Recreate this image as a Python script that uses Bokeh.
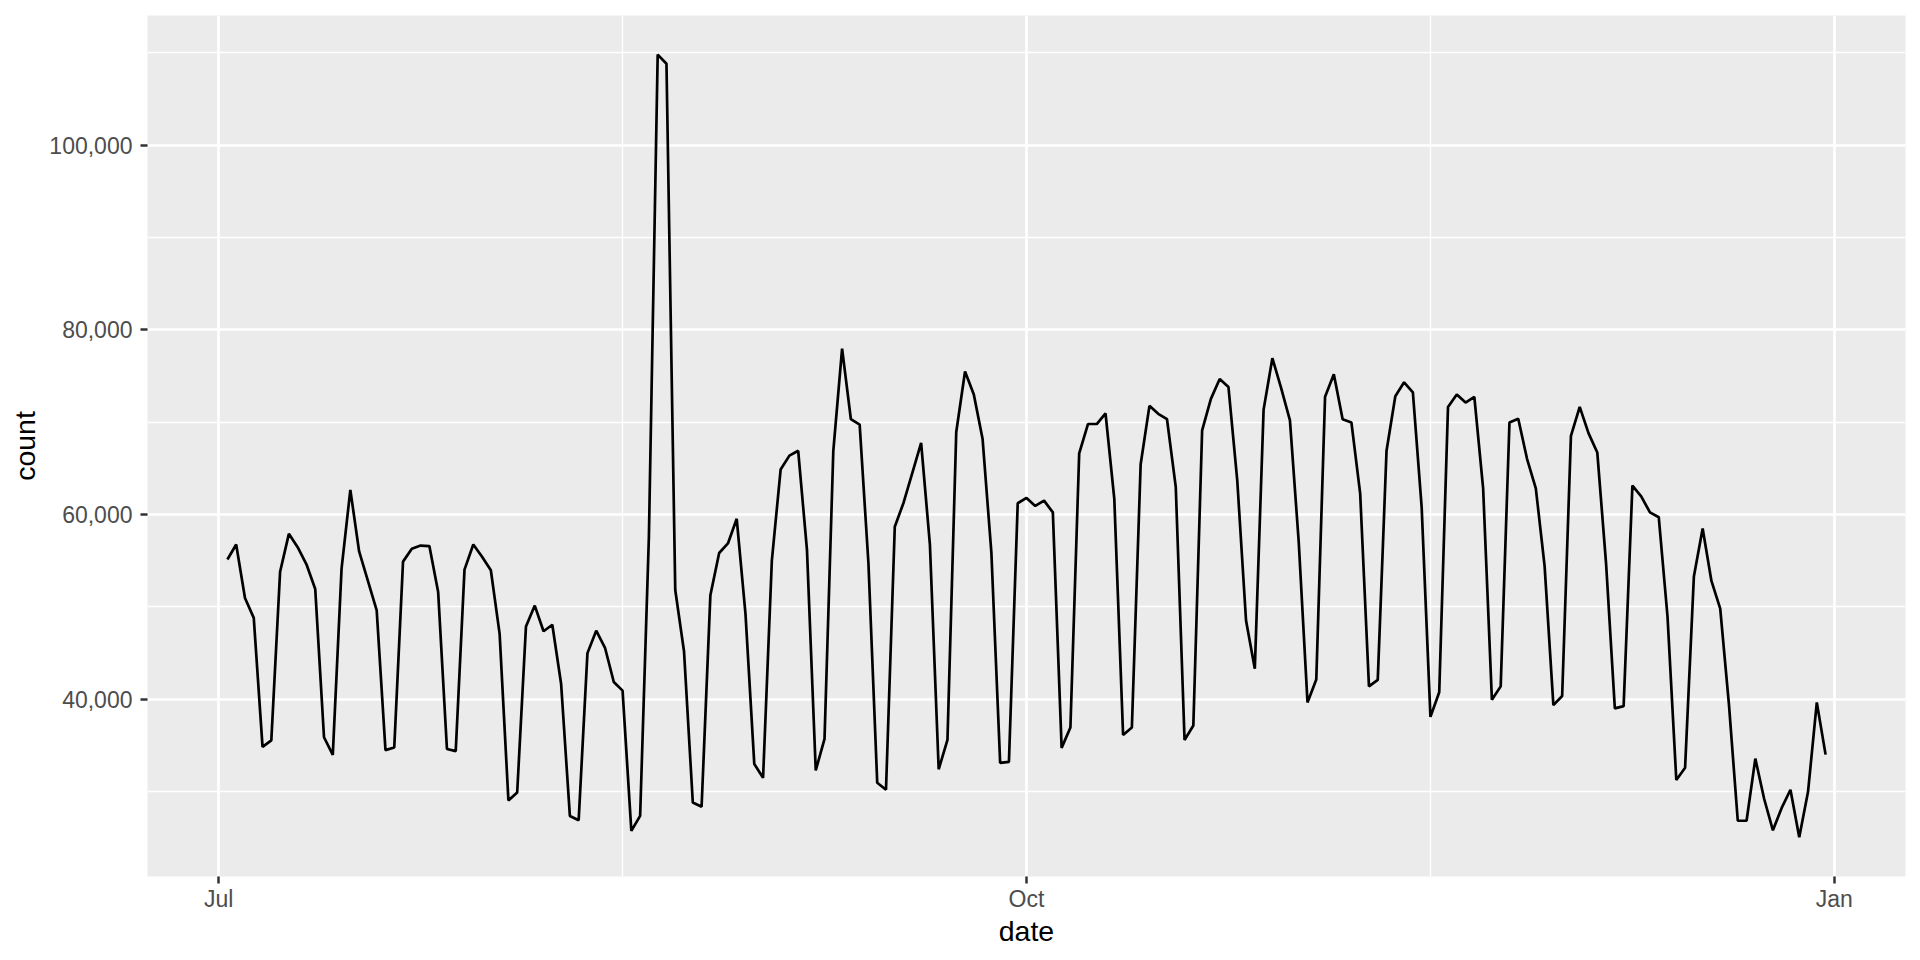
from datetime import datetime, timedelta
import pandas as pd
from bokeh.plotting import figure
from bokeh.models import FixedTicker, NumeralTickFormatter, DatetimeTickFormatter, Range1d
from bokeh.embed import file_html
from bokeh.resources import INLINE

# ---- data ----
start_date = "2013-07-02"
end_date = "2013-12-31"

jul = [55130, 56750, 50960, 48810, 34840, 35540, 53800, 57910, 56460, 54610,
       51940, 35880, 33970, 54140, 62670, 56000, 52810, 49620, 34490, 34780,
       54900, 56290, 56640, 56580, 51600, 34610, 34380, 54030, 56750, 55420]
aug = [53970, 47070, 29040, 29910, 47880, 50140, 47360, 48060, 41680, 27360,
       26900, 44990, 47420, 45570, 41860, 40930, 25740, 27360, 57620, 109800,
       108810, 51830, 45160, 28810, 28350, 51250, 55830, 56870, 59540, 49220,
       32990]
sep = [31480, 55010, 64870, 66380, 66900, 56170, 32290, 35710, 66900, 77970,
       70320, 69740, 54720, 30960, 30200, 58670, 61280, 64520, 67770, 56750,
       32410, 35590, 68930, 75480, 72990, 68170, 55880, 33100, 33220, 61220]
oct_ = [61800, 60930, 61510, 60230, 34730, 36930, 66610, 69800, 69800, 70960,
        61680, 36120, 36930, 65450, 71770, 70900, 70320, 62960, 35590, 37160,
        69100, 72520, 74670, 73800, 63710, 48520, 43300, 71360, 76930, 73680,
        70200]
nov = [57040, 39650, 42140, 72750, 75190, 70320, 69970, 62260, 41390, 42090,
       66900, 72810, 74320, 73220, 60810, 38090, 40750, 71650, 72990, 72120,
       72750, 62840, 39940, 41390, 69970, 70380, 66030, 62840, 54430, 39360]
dec = [40350, 68520, 71650, 68810, 66720, 54720, 39010, 39250, 63130, 61970,
       60230, 59710, 48930, 31250, 32580, 53280, 58490, 52810, 49800, 39360,
       26840, 26840, 33570, 29220, 25800, 28230, 30200, 25040, 29970, 39650,
       34000]

counts = jul + aug + sep + oct_ + nov + dec
dates = list(pd.date_range(start_date, end_date, freq="D"))

x_tick_dates = ["2013-07-01", "2013-10-01", "2014-01-01"]
x_minor_dates = ["2013-08-16", "2013-11-16"]
y_ticks = [40000, 60000, 80000, 100000]
y_minor = [30000, 50000, 70000, 90000, 110000]

# ---- helpers ----
def ms(d):
    return pd.Timestamp(d).value / 1e6

x0, x1 = ms(dates[0]), ms(dates[-1])
xpad = (x1 - x0) * 0.05
y0, y1 = min(counts), max(counts)
ypad = (y1 - y0) * 0.05

FONT = "Liberation Sans"

p = figure(width=1912, height=952, x_axis_type="datetime",
           output_backend="svg", toolbar_location=None,
           x_range=Range1d(x0 - xpad, x1 + xpad),
           y_range=Range1d(y0 - ypad, y1 + ypad),
           min_border_left=147, min_border_right=7,
           min_border_top=15, min_border_bottom=76)

p.background_fill_color = "#EBEBEB"
p.border_fill_color = "white"
p.outline_line_color = None

p.line(dates, counts, line_color="black", line_width=2.7)

# axes
p.xaxis.ticker = FixedTicker(ticks=[ms(d) for d in x_tick_dates],
                             minor_ticks=[ms(d) for d in x_minor_dates])
p.xaxis.formatter = DatetimeTickFormatter(days="%b", months="%b", years="%b")
p.yaxis.ticker = FixedTicker(ticks=y_ticks, minor_ticks=y_minor)
p.yaxis.formatter = NumeralTickFormatter(format="0,0")

for ax in (p.xaxis[0], p.yaxis[0]):
    ax.axis_line_color = None
    ax.major_tick_line_color = "#333333"
    ax.major_tick_line_width = 2.5
    ax.major_tick_out = 7
    ax.major_tick_in = 0
    ax.minor_tick_line_color = None
    ax.major_label_text_font = FONT
    ax.major_label_text_font_size = "23px"
    ax.major_label_text_color = "#4D4D4D"
    ax.axis_label_text_font = FONT
    ax.axis_label_text_font_size = "28.5px"
    ax.axis_label_text_font_style = "normal"
    ax.axis_label_text_color = "black"

p.xaxis.axis_label = "date"
p.yaxis.axis_label = "count"
p.xaxis.major_label_standoff = 2
p.xaxis.axis_label_standoff = 0
p.yaxis.major_label_standoff = 8
p.yaxis.axis_label_standoff = 5

for g in (p.xgrid[0], p.ygrid[0]):
    g.grid_line_color = "white"
    g.grid_line_width = 2.7
    g.minor_grid_line_color = "white"
    g.minor_grid_line_width = 1.35

open("out.html", "w").write(file_html(p, INLINE))
